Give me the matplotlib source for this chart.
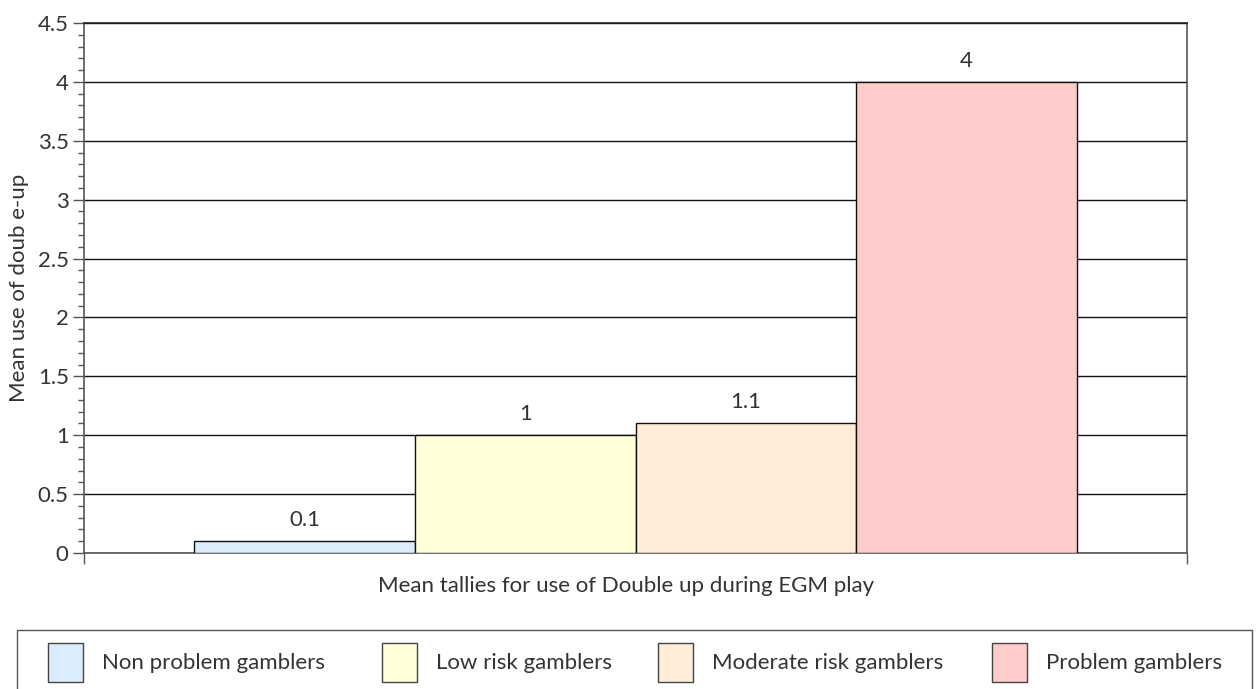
import matplotlib
matplotlib.use("Agg")
import matplotlib.pyplot as plt
from matplotlib.patches import Rectangle
from matplotlib.ticker import MultipleLocator
import numpy as np

# Data
category = "Mean tallies for use of Double up during EGM play"
groups = ["Non problem gamblers", "Low risk gamblers",
          "Moderate risk gamblers", "Problem gamblers"]
values = [0.1, 1, 1.1, 4]
value_labels = ["0.1", "1", "1.1", "4"]
colors = ["#dbecfc", "#ffffd8", "#ffecd9", "#ffcccc"]
y_label = "Mean use of doub e-up"

plt.rcParams["font.family"] = ["Lato", "DejaVu Sans"]
TXT = "#333333"
FS = 16

W, H = 1260, 689
fig = plt.figure(figsize=(W / 100, H / 100), dpi=100)
ax = fig.add_axes([84 / W, 1 - 553 / H, (1187 - 84) / W, (553 - 23) / H])

bar_w = 0.2
offsets = (np.arange(len(groups)) - (len(groups) - 1) / 2) * bar_w
for off, v, lab, c in zip(offsets, values, value_labels, colors):
    ax.bar(off, v, width=bar_w, color=c, edgecolor="#111111", linewidth=1.0, zorder=3)
    ax.annotate(lab, (off, v), xytext=(0, 8), textcoords="offset points",
                ha="center", va="bottom", fontsize=FS, color=TXT)

ax.set_xlim(-0.5, 0.5)
ax.set_ylim(0, 4.5)
ticks = np.arange(0, 4.51, 0.5)
ax.set_yticks(ticks)
ax.set_yticklabels([f"{t:g}" for t in ticks])
ax.yaxis.set_minor_locator(MultipleLocator(0.1))
ax.set_xticks([-0.5, 0.5])
ax.set_xticklabels(["", ""])
ax.tick_params(axis="y", which="major", length=8, width=1, color="#555555",
               labelsize=FS, labelcolor=TXT, pad=3)
ax.tick_params(axis="y", which="minor", length=4.5, width=1, color="#555555")
ax.tick_params(axis="x", which="major", length=8, width=1, color="#555555")

ax.yaxis.grid(True, which="major", color="#111111", linewidth=1.0, zorder=0)
ax.set_axisbelow(True)
for s in ax.spines.values():
    s.set_color("#555555")
    s.set_linewidth(1.2)
ax.spines["top"].set_color("#222222")

ax.set_ylabel(y_label, fontsize=FS, color=TXT, labelpad=6)
fig.text(626 / W, 1 - 586 / H, category, ha="center", va="center",
         fontsize=FS, color=TXT)

# Legend panel
fig.patches.append(Rectangle((17 / W, -0.01), (1252 - 17) / W, 1 - 630 / H + 0.01,
                             transform=fig.transFigure, fill=False,
                             edgecolor="#555555", linewidth=1.0))
handle_x = [48, 382, 658, 992]
for hx, g, c in zip(handle_x, groups, colors):
    fig.patches.append(Rectangle((hx / W, 1 - 682 / H), 35 / W, 39 / H,
                                 transform=fig.transFigure, facecolor=c,
                                 edgecolor="#444444", linewidth=1.0))
    fig.text((hx + 54) / W, 1 - 663 / H, g, ha="left", va="center",
             fontsize=FS, color=TXT)

fig.savefig("out.png", dpi=100)
